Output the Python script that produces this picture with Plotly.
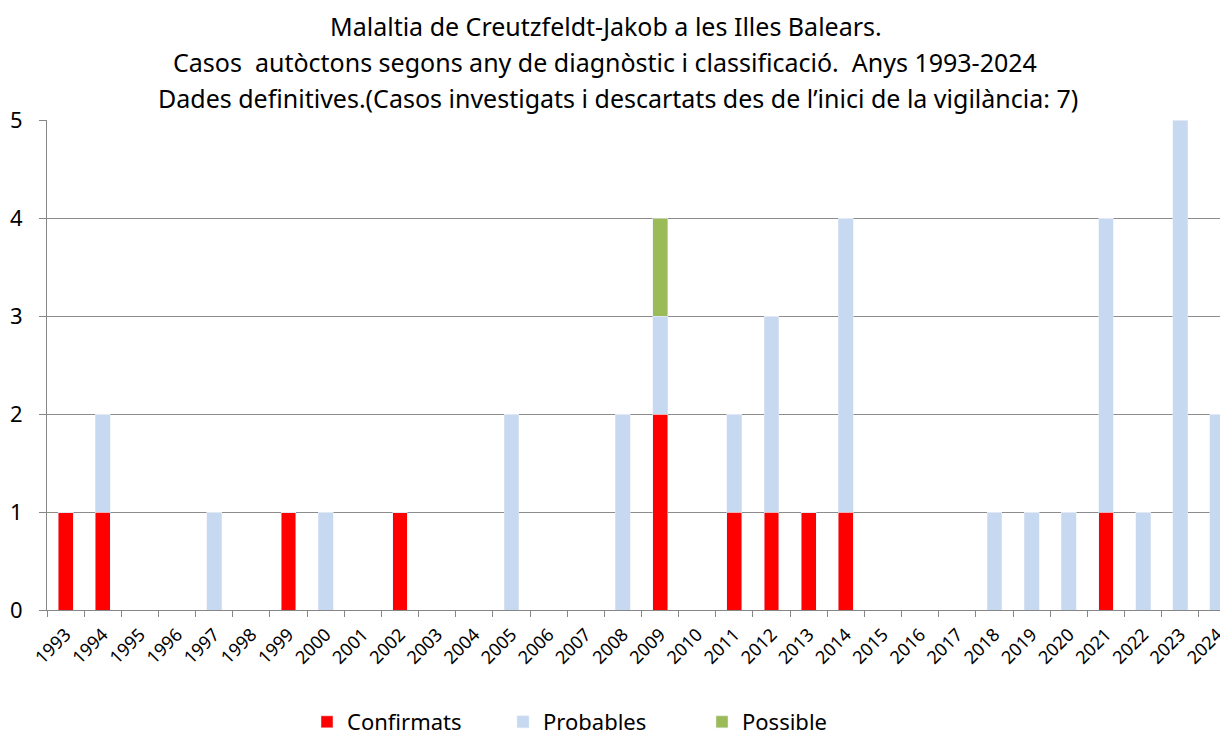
import plotly.graph_objects as go

years = [str(y) for y in range(1993, 2025)]
confirmats = [1,1,0,0,0,0,1,0,0,1,0,0,0,0,0,0,2,0,1,1,1,1,0,0,0,0,0,0,1,0,0,0]
probables  = [0,1,0,0,1,0,0,1,0,0,0,0,2,0,0,2,1,0,1,2,0,3,0,0,0,1,1,1,3,1,5,2]
possible   = [0,0,0,0,0,0,0,0,0,0,0,0,0,0,0,0,1,0,0,0,0,0,0,0,0,0,0,0,0,0,0,0]

title_lines = [
    "Malaltia de Creutzfeldt-Jakob a les Illes Balears.",
    "Casos  autòctons segons any de diagnòstic i classificació.  Anys 1993-2024",
    "Dades definitives.(Casos investigats i descartats des de l’inici de la vigilància: 7)",
]

FONT = "Noto Sans"
# page has an 8px body margin; figure coordinates below are relative to the figure
L, T, B = 39, 112, 136
PH = 738 - T - B
PW = 1228 - L

fig = go.Figure()
fig.add_trace(go.Bar(x=years, y=confirmats, name="Confirmats", marker_color="#FF0000",
                     width=0.4, legend="legend"))
fig.add_trace(go.Bar(x=years, y=probables, name="Probables", marker_color="#C6D9F1",
                     width=0.4, legend="legend2"))
fig.add_trace(go.Bar(x=years, y=possible, name="Possible", marker_color="#9BBB59",
                     width=0.4, legend="legend3"))

centers = [598, 597, 610]
ys = [18, 54, 90]
for txt, cx, yy in zip(title_lines, centers, ys):
    fig.add_annotation(text=txt, xref="paper", yref="paper", x=(cx - L) / PW,
                       y=1 + (T - yy) / PH, xanchor="center", yanchor="middle",
                       showarrow=False, font=dict(family=FONT, size=25, color="#000000"))

def leg(xpix):
    return dict(orientation="h", x=(xpix - L) / PW, xanchor="left",
                y=(602 - 714) / PH, yanchor="middle",
                font=dict(size=22, family=FONT), itemwidth=30, bgcolor="rgba(0,0,0,0)")

fig.update_layout(
    width=1228, height=738,
    barmode="stack",
    plot_bgcolor="white", paper_bgcolor="white",
    margin=dict(l=L, r=0, t=T, b=B, autoexpand=False),
    font=dict(family=FONT, color="#000000"),
    xaxis=dict(
        type="category", range=[-0.5, 31.5],
        tickangle=-45, tickfont=dict(size=18, family=FONT),
        showline=True, linecolor="#868686", linewidth=1,
        ticks="outside", tickson="boundaries", ticklen=6, tickcolor="#868686",
        showgrid=False, ticklabelstandoff=6,
    ),
    yaxis=dict(
        range=[0, 5], dtick=1,
        tickfont=dict(size=22, family=FONT),
        showgrid=True, gridcolor="#8C8C8C", gridwidth=1,
        showline=True, linecolor="#868686", linewidth=1,
        ticks="outside", ticklen=7, tickcolor="#868686",
        zeroline=False, ticklabelstandoff=12,
    ),
    legend=leg(299),
    legend2=leg(495),
    legend3=leg(694),
    showlegend=True,
)

fig.write_html("out.html")
